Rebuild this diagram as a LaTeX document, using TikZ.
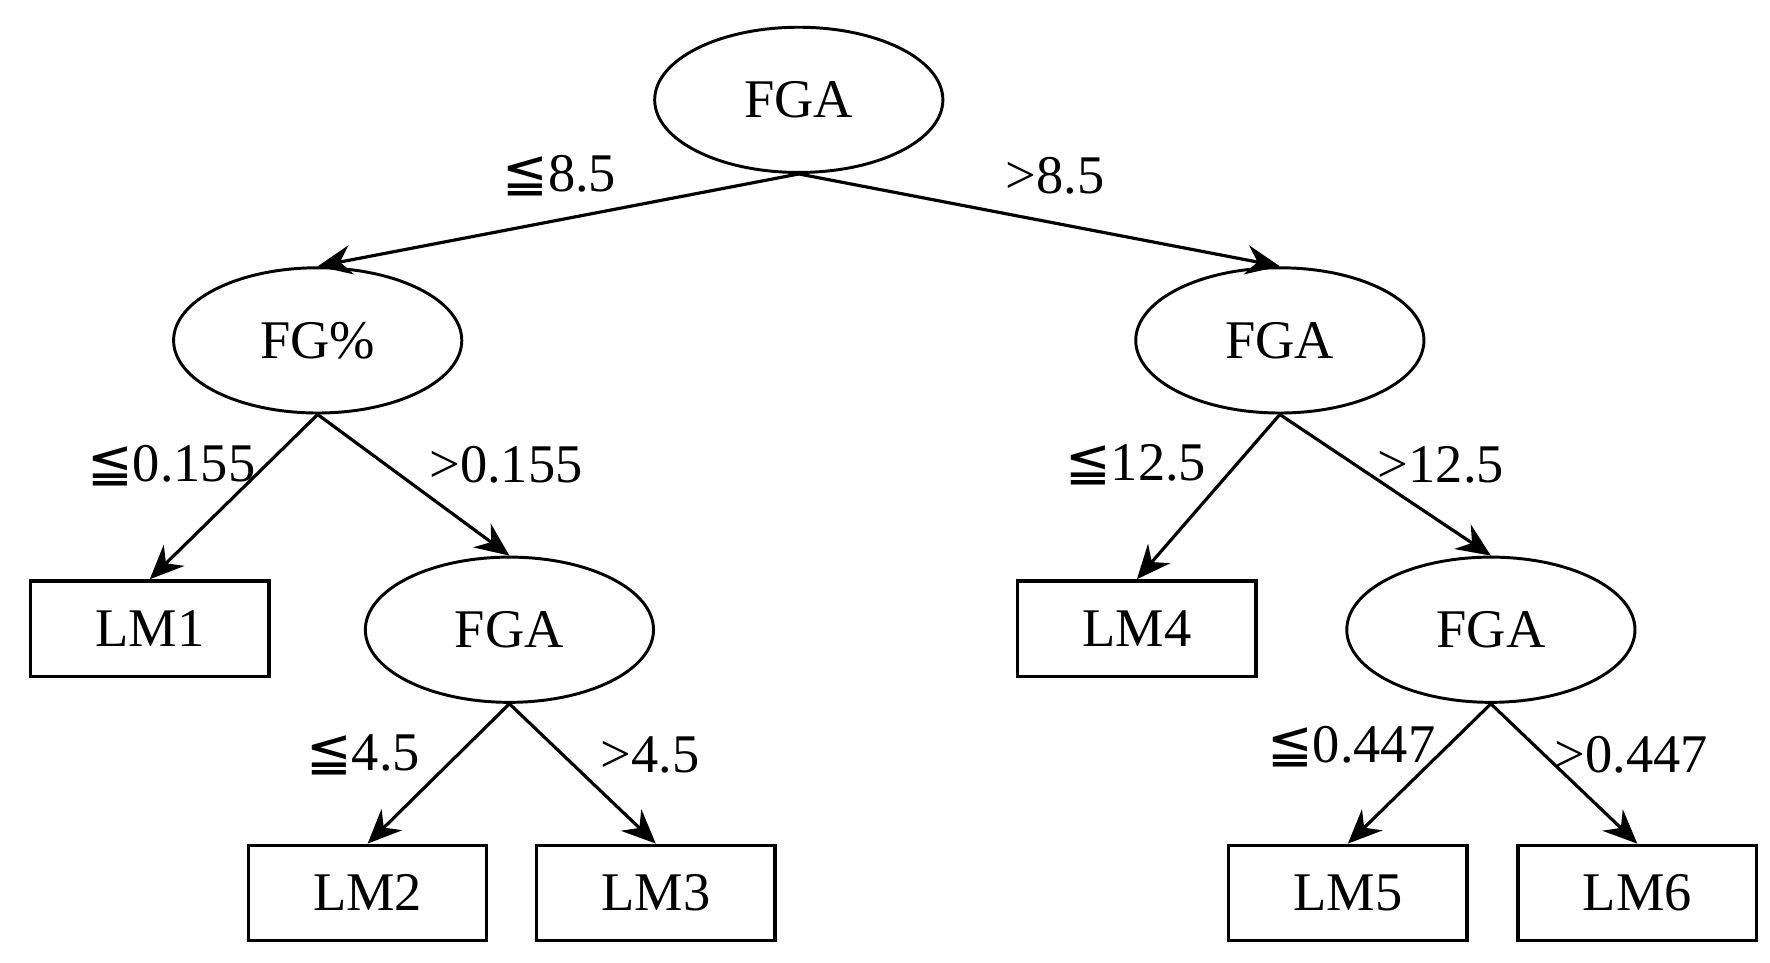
\documentclass[tikz,border=0pt]{standalone}
\usepackage{fontspec}
\setmainfont{Liberation Serif}
\newfontfamily\symf{DejaVu Sans}
\usetikzlibrary{shapes.geometric,arrows.meta}
\newcommand{\leqq}{{\symf\char"2266}}
\begin{document}
\begin{tikzpicture}[x=0.5pt,y=-0.5pt,
  every node/.style={font=\fontsize{24}{28}\selectfont},
  ell/.style={draw,line width=1.3pt,ellipse,minimum width=127pt,minimum height=64pt,inner sep=0pt},
  box/.style={draw,line width=1.5pt,rectangle,minimum width=105pt,minimum height=42pt,inner sep=0pt},
  arr/.style={line width=1.4pt,-{Stealth[length=15pt,width=13pt,inset=5pt]}},
  lab/.style={inner sep=0pt}]
\useasboundingbox (0,0) rectangle (1560,848);
\node[ell] (r) at (704,88) {FGA};
\node[ell] (a) at (280,300) {FG\%};
\node[ell] (b) at (1128,300) {FGA};
\node[ell] (c) at (449,555) {FGA};
\node[ell] (d) at (1314,555) {FGA};
\node[box] (l1) at (132,554) {LM1};
\node[box] (l4) at (1002,554) {LM4};
\node[box] (l2) at (324,787) {LM2};
\node[box] (l3) at (578,787) {LM3};
\node[box] (l5) at (1188,787) {LM5};
\node[box] (l6) at (1443,787) {LM6};
\draw[arr] (r.south) -- (a.north);
\draw[arr] (r.south) -- (b.north);
\draw[arr] (a.south) -- (l1.north);
\draw[arr] (a.south) -- (c.north);
\draw[arr] (b.south) -- (l4.north);
\draw[arr] (b.south) -- (d.north);
\draw[arr] (c.south) -- (l2.north);
\draw[arr] (c.south) -- (l3.north);
\draw[arr] (d.south) -- (l5.north);
\draw[arr] (d.south) -- (l6.north);
\node[lab] (t1) at (493,155) {\leqq8.5};
\node[lab] (t2) at (930,155) {>8.5};
\node[lab] (t3) at (151,410) {\leqq0.155};
\node[lab] (t4) at (446,410) {>0.155};
\node[lab] (t5) at (1001,410) {\leqq12.5};
\node[lab] (t6) at (1270,410) {>12.5};
\node[lab] (t7) at (320,665) {\leqq4.5};
\node[lab] (t8) at (573,665) {>4.5};
\node[lab] (t9) at (1191,658) {\leqq0.447};
\node[lab] (t10) at (1438,665) {>0.447};
\end{tikzpicture}
\end{document}
